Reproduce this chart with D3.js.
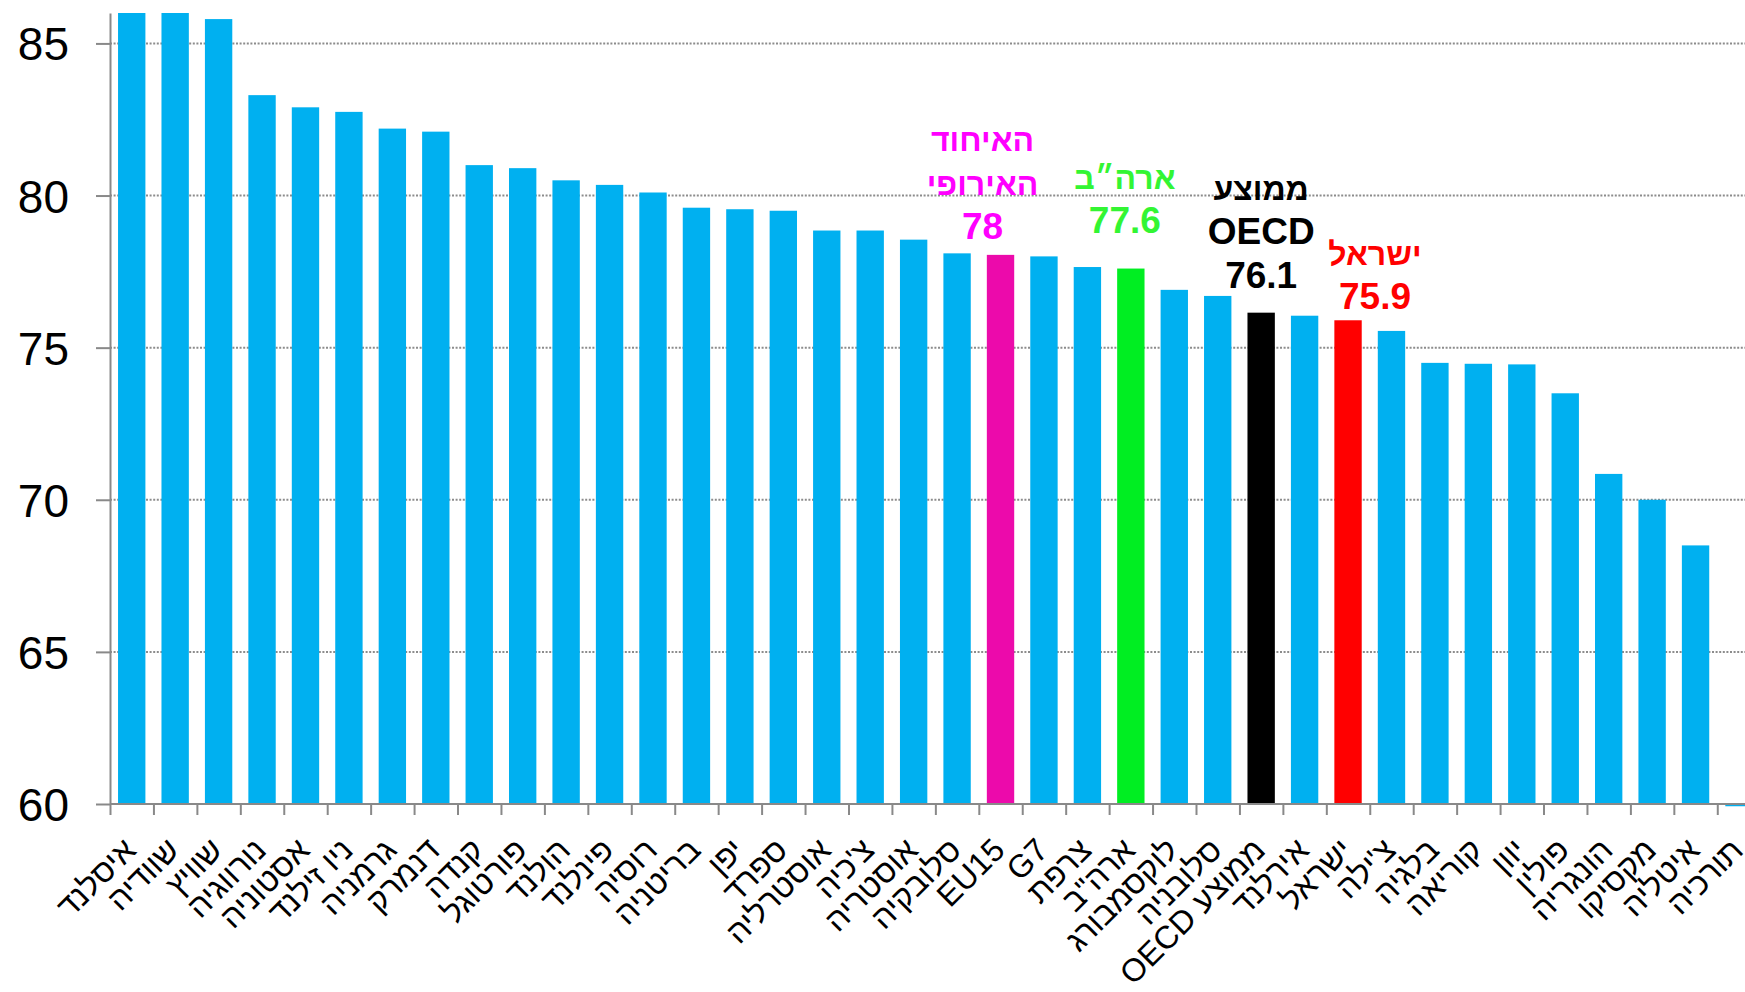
<!DOCTYPE html>
<html><head><meta charset="utf-8">
<script src="https://cdn.jsdelivr.net/npm/d3@7"></script>
<style>body{margin:0;background:#fff}svg{display:block;background:#fff}</style>
</head><body><svg id="c" width="1745" height="992"></svg>
<script>
// ---------- data ----------
const categories = ["איסלנד","שוודיה","שוויץ","נורווגיה","אסטוניה","ניו זילנד","גרמניה","דנמרק","קנדה","פורטוגל",
  "הולנד","פינלנד","רוסיה","בריטניה","יפן","ספרד","אוסטרליה","צ'כיה","אוסטריה","סלובקיה",
  "EU15","G7","צרפת","ארה\"ב","לוקסמבורג","סלובניה","ממוצע OECD","אירלנד","ישראל","צ'ילה",
  "בלגיה","קוריאה","יוון","פולין","הונגריה","מקסיקו","איטליה","תורכיה"];
const values = [86.0,86.0,85.8,83.3,82.9,82.75,82.2,82.1,81.0,80.9,
  80.5,80.35,80.1,79.6,79.55,79.5,78.85,78.85,78.55,78.1,
  78.05,78.0,77.65,77.6,76.9,76.7,76.15,76.05,75.9,75.55,
  74.5,74.47,74.45,73.5,70.85,70.0,68.5,59.9];
const yTicks = [60,65,70,75,80,85];
const gridTicks = [65,70,75,80,85];
const annoCats = ["EU15","ארה\"ב","ממוצע OECD","ישראל"];
const annoLines = [["האיחוד","האירופי","78"],["ארה״ב","77.6"],["ממוצע","OECD","76.1"],["ישראל","75.9"]];

// ---------- styles / layout ----------
const W = 1745, H = 992;
const mLeft = 110, mTop = 13, mBottom = 804, step = 43.44;
const FONT = "'Liberation Sans', Arial, sans-serif";
const baseBlue = "#00b0f0";
const barColors = {"EU15":"#ec0aab","ארה\"ב":"#00ee22","ממוצע OECD":"#000000","ישראל":"#ff0000"};
const textColors = {"EU15":"#ff00ff","ארה\"ב":"#33f533","ממוצע OECD":"#000000","ישראל":"#ff0000"};
const annoOffset = {"EU15":[-18,16],"ארה\"ב":[-6,36],"ממוצע OECD":[0,25],"ישראל":[27,11]};
const isHebrew = t => /[\u0590-\u05FF]/.test(t);

const svg = d3.select("#c");
svg.append("rect").attr("width",W).attr("height",H).attr("fill","#fff");

const x = d3.scaleBand().domain(categories)
  .range([mLeft, mLeft + step*categories.length]).paddingInner(0.37).paddingOuter(0.185);
const y = d3.scaleLinear().domain([60,86]).range([mBottom, mTop]);
const xb = d3.scaleLinear().domain([0, categories.length]).range([mLeft, mLeft + step*categories.length]);

// grid
svg.append("g").selectAll("line").data(gridTicks).join("line")
  .attr("x1", mLeft).attr("x2", W).attr("y1", d=>y(d)).attr("y2", d=>y(d))
  .attr("stroke","#8c8c8c").attr("stroke-width",2).attr("stroke-dasharray","2,1.6");

// bars
svg.append("clipPath").attr("id","clip").append("rect")
  .attr("x", mLeft).attr("y", mTop).attr("width", W-mLeft).attr("height", mBottom+2.2-mTop);
svg.append("g").attr("clip-path","url(#clip)").selectAll("rect").data(categories).join("rect")
  .attr("x", d=>x(d)).attr("width", x.bandwidth())
  .attr("y", (d,i)=>Math.min(y(values[i]), y(60)))
  .attr("height", (d,i)=>Math.abs(y(60)-y(values[i])))
  .attr("fill", d=>barColors[d] || baseBlue);

// y axis
const ya = svg.append("g").attr("transform",`translate(${mLeft},0)`)
  .call(d3.axisLeft(y).tickValues(yTicks).tickSize(14).tickSizeOuter(0).tickPadding(27).tickFormat(d3.format("d")));
ya.select(".domain").attr("stroke","#898989").attr("stroke-width",2);
ya.selectAll(".tick line").attr("stroke","#898989").attr("stroke-width",2);
ya.selectAll(".tick text").attr("font-family",FONT).attr("font-size",46).attr("fill","#000").attr("dy","0.36em");

// x axis: domain + labels
const xa = svg.append("g").attr("transform",`translate(0,${mBottom})`)
  .call(d3.axisBottom(x).tickSize(0).tickSizeOuter(0));
xa.select(".domain").attr("stroke","#898989").attr("stroke-width",2).attr("d",`M${mLeft},0H${W}`);
xa.selectAll(".tick text")
  .attr("font-family",FONT).attr("font-size",32).attr("fill","#000")
  .attr("x",0).attr("y",0).attr("dy",null)
  .attr("direction","rtl").attr("text-anchor","start")
  .attr("transform","translate(6,48) rotate(-45)");
// boundary ticks
const xt = svg.append("g").attr("transform",`translate(0,${mBottom})`)
  .call(d3.axisBottom(xb).tickValues(d3.range(0, categories.length+1)).tickSize(11).tickFormat(""));
xt.select(".domain").remove();
xt.selectAll(".tick line").attr("stroke","#898989").attr("stroke-width",2);

// annotations
annoCats.forEach((c,k)=>{
  const i = categories.indexOf(c);
  const [dx, dy] = annoOffset[c];
  const cx = x(c) + x.bandwidth()/2 + dx;
  const lastBase = y(values[i]) - dy;
  const lines = annoLines[k];
  const g = svg.append("g");
  lines.forEach((t,j)=>{
    g.append("text").attr("x", cx).attr("y", lastBase - (lines.length-1-j)*44)
      .attr("text-anchor","middle").attr("direction","rtl")
      .attr("font-family",FONT).attr("font-weight","bold").attr("font-size", isHebrew(t) ? 32 : 37)
      .attr("fill", textColors[c]).text(t);
  });
});
</script></body></html>
